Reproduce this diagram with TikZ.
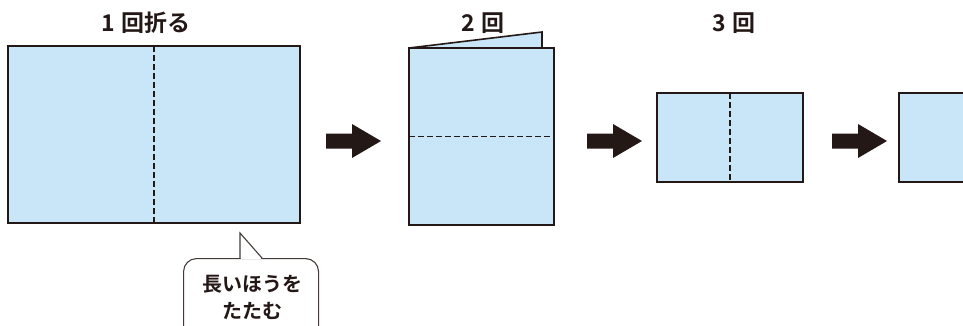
\documentclass[tikz,border=0pt]{standalone}
\usepackage{fontspec}
\newfontfamily\jp{Noto Sans CJK JP Bold}
\definecolor{paperblue}{HTML}{C8E6F8}
\definecolor{ink}{HTML}{231815}
\begin{document}
\begin{tikzpicture}[x=1pt,y=-1pt,
  paper/.style={draw=ink,fill=paperblue,line width=1.9pt,inner sep=0pt,outer sep=0pt},
  fold/.style={draw=ink,line width=1.7pt,dash pattern=on 5.5pt off 3.5pt},
  title/.style={font=\jp\fontsize{23}{26}\selectfont,text=ink,inner sep=0pt},
  blockarrow/.style={fill=ink},
  callout/.style={draw=ink!85,line width=1.1pt,fill=white}]
\useasboundingbox (0,0) rectangle (963,325);
% titles
\node[title] (t1) at (146,23) {1\hspace{6pt}回折る};
\node[title] (t2) at (483,23) {2\hspace{6pt}回};
\node[title] (t3) at (734,23) {3\hspace{6pt}回};
% paper 1
\node[paper,minimum width=292pt,minimum height=177pt] (p1) at (154,134.5) {};
\draw[fold] (p1.north) -- (p1.south);
% paper 2 with flap
\coordinate (f1) at (409,48);
\coordinate (f2) at (542,32);
\coordinate (f3) at (542,48);
\fill[paperblue] (f1) -- (f2) -- (f3) -- cycle;
\draw[ink,line width=1.6pt] (f1) -- (f2) -- (f3);
\node[paper,minimum width=145pt,minimum height=177pt] (p2) at (481.5,136.5) {};
\draw[fold] (p2.west) -- (p2.east);
% paper 3
\node[paper,minimum width=146pt,minimum height=89pt] (p3) at (730,137.5) {};
\draw[fold] (p3.north) -- (p3.south);
% paper 4 (cut by the edge)
\node[paper,minimum width=100pt,minimum height=89pt] (p4) at (949,137.5) {};
% block arrows
\foreach \n/\x in {a1/326,a2/587,a3/832}{
  \coordinate (\n) at (\x,141);
  \fill[blockarrow] (\n) ++(0,-7.5) -- ++(26,0) -- ++(0,-9.5) -- ++(29,17) -- ++(-29,17) -- ++(0,-9.5) -- ++(-26,0) -- cycle;
}
% callout
\node[callout,rounded corners=13pt,minimum width=135pt,minimum height=90pt,anchor=north west] (cb) at (183,258) {};
\coordinate (tip) at (240,233);
\fill[white] (240.6,259) -- (240.6,234) -- (261.5,259) -- cycle;
\draw[ink!85,line width=1.1pt] (240,258.5) -- (tip) -- (262,258);
\node[title,align=center,font=\jp\fontsize{20}{27}\selectfont] (ct) at (252,297) {長いほうを\\たたむ};
\end{tikzpicture}
\end{document}
